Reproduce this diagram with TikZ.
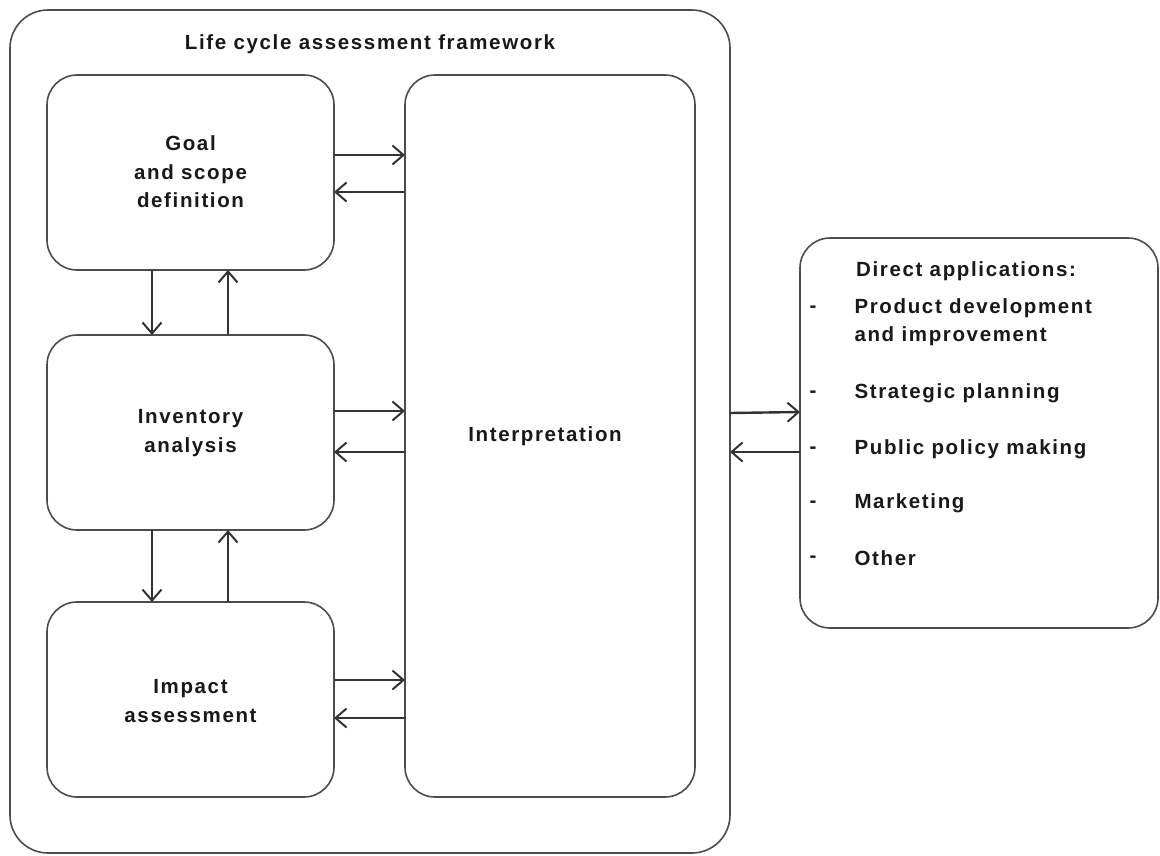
\documentclass[tikz,border=0pt]{standalone}
\usepackage{fontspec}
\setmainfont{Liberation Sans}[BoldFeatures={LetterSpace=8}]
\usetikzlibrary{arrows.meta}
\begin{document}
\begin{tikzpicture}[x=1pt,y=-1pt,
  box/.style={draw=black!70,line width=1.6pt,rounded corners=30pt},
  lbl/.style={font=\bfseries\fontsize{20.5}{28.5}\selectfont,text=black!90,align=center},
  conn/.style={draw=black!80,line width=2.4pt,-{Straight Barb[length=11pt,width=19pt,line width=2pt]}}]
\useasboundingbox (0,0) rectangle (1160,855);
\fill[white] (0,0) rectangle (1160,855);
% boxes
\draw[box,rounded corners=38pt] (10,10) rectangle (730,853);
\node[lbl] (title) at (370,44) {Life cycle assessment framework};
\draw[box] (47,75) rectangle (334,270);
\draw[box] (47,335) rectangle (334,530);
\draw[box] (47,602) rectangle (334,797);
\draw[box] (405,75) rectangle (695,797);
\draw[box] (800,238) rectangle (1158,628);
\node[lbl] (goal) at (190.5,172) {Goal\\and scope\\definition};
\node[lbl] (inv) at (190.5,433) {Inventory\\analysis};
\node[lbl] (imp) at (190.5,701) {Impact\\assessment};
\node[lbl] (interp) at (545,436) {Interpretation};
\node[lbl] (appt) at (966,271) {Direct applications:};
\begin{scope}[every node/.style={lbl,align=left,anchor=west}]
\node (d1) at (806,309) {-};
\node (a1) at (851,322) {Product development\\and improvement};
\node (d2) at (806,394) {-};
\node (a2) at (851,393) {Strategic planning};
\node (d3) at (806,450) {-};
\node (a3) at (851,449) {Public policy making};
\node (d4) at (806,504) {-};
\node (a4) at (851,503) {Marketing};
\node (d5) at (806,559) {-};
\node (a5) at (851,558) {Other};
\end{scope}
% horizontal arrows
\coordinate (L1) at (334,155); \coordinate (R1) at (405,155);
\coordinate (L2) at (334,192); \coordinate (R2) at (405,192);
\coordinate (L3) at (334,411); \coordinate (R3) at (405,411);
\coordinate (L4) at (334,452); \coordinate (R4) at (405,452);
\coordinate (L5) at (334,680); \coordinate (R5) at (405,680);
\coordinate (L6) at (334,718); \coordinate (R6) at (405,718);
\draw[conn] (L1) -- (R1);
\draw[conn] (R2) -- (L2);
\draw[conn] (L3) -- (R3);
\draw[conn] (R4) -- (L4);
\draw[conn] (L5) -- (R5);
\draw[conn] (R6) -- (L6);
\coordinate (O1) at (730,413); \coordinate (P1) at (800,412);
\coordinate (O2) at (730,452); \coordinate (P2) at (800,452);
\draw[conn] (O1) -- (P1);
\draw[conn] (P2) -- (O2);
% vertical arrows
\coordinate (V1) at (152,270); \coordinate (W1) at (152,335);
\coordinate (V2) at (228,270); \coordinate (W2) at (228,335);
\coordinate (V3) at (152,530); \coordinate (W3) at (152,602);
\coordinate (V4) at (228,530); \coordinate (W4) at (228,602);
\draw[conn] (V1) -- (W1);
\draw[conn] (W2) -- (V2);
\draw[conn] (V3) -- (W3);
\draw[conn] (W4) -- (V4);
\end{tikzpicture}
\end{document}
